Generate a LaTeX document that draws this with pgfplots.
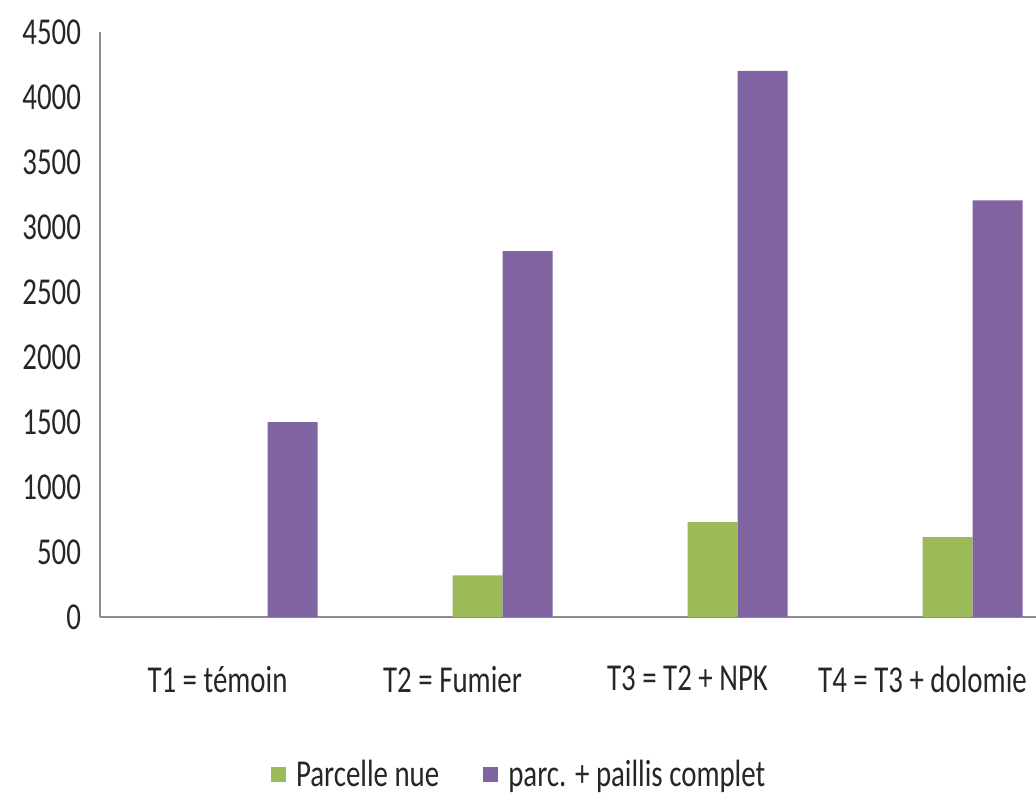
\documentclass[border=0pt]{standalone}
\usepackage{pgfplots}
\pgfplotsset{compat=1.18}
\usepackage{fontspec}
\setmainfont{Carlito}[FakeStretch=0.76]
\definecolor{cgreen}{HTML}{9BBB59}
\definecolor{cpurple}{HTML}{8064A2}
\definecolor{axgray}{HTML}{8C8C8C}
\begin{document}
\begin{tikzpicture}
\path[use as bounding box] (0,0) rectangle (518pt,398.5pt);
\begin{axis}[
  at={(50pt,90pt)}, anchor=south west, scale only axis,
  width=470pt, height=292.5pt,
  xmin=-0.5, xmax=3.5, ymin=0, ymax=4500,
  ytick={0,500,...,4500}, xtick={0,1,2,3},
  xticklabels={T1 = témoin, T2 = Fumier, T3 = T2 + NPK, T4 = T3 + dolomie},
  axis x line=bottom, axis y line=left,
  axis line style={-, draw=axgray, line width=1pt},
  major tick length=0pt,
  tick label style={font=\fontsize{19pt}{22pt}\selectfont, text=black!85},
  /pgf/number format/assume math mode=true,
  /pgf/number format/1000 sep={},
  yticklabel style={xshift=-6pt},
  xticklabel style={yshift=-21pt},
  ybar, bar width=25pt,
  legend style={at={(0.447,-0.27)}, anchor=center, draw=none,
    font=\fontsize{19pt}{22pt}\selectfont, text=black!85,
    /tikz/every odd column/.append style={column sep=3pt},
    /tikz/every even column/.append style={column sep=20pt}},
  legend columns=2,
  legend image code/.code={\fill[#1] (0pt,-3.75pt) rectangle (7.5pt,3.75pt);},
]
\addplot[fill=cgreen, draw=none, bar shift=12.5pt] coordinates {(0,0) (1,320) (2,730) (3,615)};
\addplot[fill=cpurple, draw=none, bar shift=37.5pt] coordinates {(0,1500) (1,2815) (2,4200) (3,3205)};
\legend{Parcelle nue, parc. + paillis complet}
\end{axis}
\end{tikzpicture}
\end{document}
